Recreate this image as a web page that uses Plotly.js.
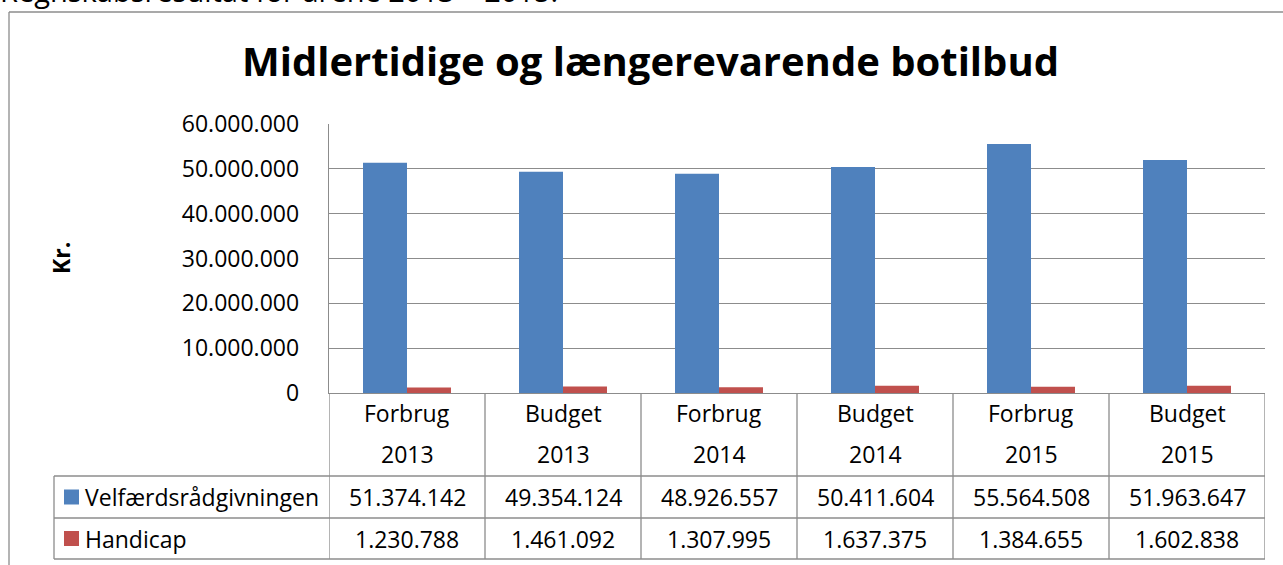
<!DOCTYPE html>
<html>
<head>
<meta charset="utf-8">
<script src="https://cdn.plot.ly/plotly-3.0.1.min.js"></script>
<style>
  html, body { margin: 0; padding: 0; background: #fff; overflow: hidden; }
  #chart { width: 1283px; height: 565px; }
</style>
</head>
<body>
<div id="chart"></div>
<script>
// ---- Data ----
const categories = ['Forbrug 2013', 'Budget 2013', 'Forbrug 2014', 'Budget 2014', 'Forbrug 2015', 'Budget 2015'];
const labelTop = ['Forbrug', 'Budget', 'Forbrug', 'Budget', 'Forbrug', 'Budget'];
const labelYear = ['2013', '2013', '2014', '2014', '2015', '2015'];
const seriesNames = ['Velfærdsrådgivningen', 'Handicap'];
const velfaerd = [51374142, 49354124, 48926557, 50411604, 55564508, 51963647];
const handicap = [1230788, 1461092, 1307995, 1637375, 1384655, 1602838];
const yTickVals = [0, 10000000, 20000000, 30000000, 40000000, 50000000, 60000000];
const yTickText = ['0', '10.000.000', '20.000.000', '30.000.000', '40.000.000', '50.000.000', '60.000.000'];
const chartTitle = 'Midlertidige og længerevarende botilbud';
const yTitle = 'Kr.';
const pageText = 'Regnskabsresultat for årene 2013 – 2015.';

// ---- Layout geometry (pixels) ----
const W = 1283, H = 565;
const L = 329, R = 18, T = 124, B = 172;
const plotW = W - L - R, plotH = H - T - B;
const px = x => (x - L) / plotW;
const py = y => (H - B - y) / plotH;

const BLUE = '#4F81BD', RED = '#C0504D', GRID = '#8c8c8c';
const FONT = 'Open Sans, Noto Sans, sans-serif';

const fmt = n => String(n).replace(/\B(?=(\d{3})+(?!\d))/g, '.');

const traces = [
  { type: 'bar', name: seriesNames[0], x: categories, y: velfaerd, marker: { color: BLUE }, hoverinfo: 'none' },
  { type: 'bar', name: seriesNames[1], x: categories, y: handicap, marker: { color: RED }, hoverinfo: 'none' }
];

const shapes = [];
const annotations = [];
const line = (x0, y0, x1, y1, xref) => shapes.push({
  type: 'line', xref: xref || 'paper', yref: 'paper', x0: x0, x1: x1, y0: y0, y1: y1,
  line: { color: GRID, width: 1.3 }, layer: 'above'
});

// outer frame
line(px(9), py(12), px(W + 5), py(12));
line(px(9), py(12), px(9), py(H + 5));

// table: horizontal lines
const tableLeft = 54, rowTop = 476, rowMid = 518, rowBot = 559;
line(px(tableLeft), py(rowTop), 1, py(rowTop));
line(px(tableLeft), py(rowMid), 1, py(rowMid));
line(px(tableLeft), py(rowBot), 1, py(rowBot));
line(px(tableLeft), py(rowTop), px(tableLeft), py(rowBot));
// vertical lines at category boundaries
for (let i = 0; i <= categories.length; i++) {
  line(i - 0.5, 0, i - 0.5, py(rowBot), 'x');
}

// legend keys in the table
const colors = [BLUE, RED];
const rowCenters = [(rowTop + rowMid) / 2, (rowMid + rowBot) / 2];
const seriesData = [velfaerd, handicap];
rowCenters.forEach((c, k) => {
  shapes.push({ type: 'rect', xref: 'paper', yref: 'paper',
    x0: px(64), x1: px(79), y0: py(c - 7.5), y1: py(c + 7.5),
    fillcolor: colors[k], line: { width: 0 }, layer: 'above' });
  annotations.push({ xref: 'paper', yref: 'paper', x: px(83), y: py(c), xanchor: 'left', yanchor: 'middle',
    text: seriesNames[k], showarrow: false, font: { family: FONT, size: 23, color: '#000' } });
  categories.forEach((cat, i) => {
    annotations.push({ xref: 'x', yref: 'paper', x: i, y: py(c), xanchor: 'center', yanchor: 'middle',
      text: fmt(seriesData[k][i]), showarrow: false, font: { family: FONT, size: 23, color: '#000' } });
  });
});

// category header labels
categories.forEach((cat, i) => {
  annotations.push({ xref: 'x', yref: 'paper', x: i, y: py(413), xanchor: 'center', yanchor: 'middle',
    text: labelTop[i], showarrow: false, font: { family: FONT, size: 23, color: '#000' } });
  annotations.push({ xref: 'x', yref: 'paper', x: i, y: py(454), xanchor: 'center', yanchor: 'middle',
    text: labelYear[i], showarrow: false, font: { family: FONT, size: 23, color: '#000' } });
});

// y-axis title
annotations.push({ xref: 'paper', yref: 'paper', x: px(61), y: py(258), xanchor: 'center', yanchor: 'middle',
  text: '<b>' + yTitle + '</b>', textangle: -90, showarrow: false, font: { family: FONT, size: 23, color: '#000' } });

// cut-off page text above the chart
annotations.push({ xref: 'paper', yref: 'paper', x: px(-2), y: py(-10), xanchor: 'left', yanchor: 'middle',
  text: pageText, showarrow: false, font: { family: FONT, size: 29, color: '#000' } });

const layout = {
  width: W, height: H,
  margin: { l: L, r: R, t: T, b: B, pad: 0 },
  paper_bgcolor: '#fff', plot_bgcolor: '#fff',
  showlegend: false,
  barmode: 'group', bargap: 0.436, bargroupgap: 0,
  title: { text: '<b>' + chartTitle + '</b>', xref: 'container', x: 0.507, xanchor: 'center',
    yref: 'container', y: 1 - 62 / H, yanchor: 'middle',
    font: { family: FONT, size: 40, color: '#000' } },
  xaxis: { type: 'category', categoryarray: categories, range: [-0.5, categories.length - 0.5],
    showticklabels: false, showgrid: false, zeroline: false, showline: true, linecolor: GRID, linewidth: 1.3,
    ticks: '', fixedrange: true },
  yaxis: { range: [0, 60000000], tickvals: yTickVals, ticktext: yTickText,
    showgrid: true, gridcolor: GRID, gridwidth: 1.3, zeroline: false,
    showline: true, linecolor: GRID, linewidth: 1.3, ticks: '', ticklabelstandoff: 24,
    tickfont: { family: FONT, size: 23, color: '#000' }, fixedrange: true },
  shapes: shapes,
  annotations: annotations
};

Plotly.newPlot('chart', traces, layout, { displayModeBar: false, staticPlot: true });
</script>
</body>
</html>
